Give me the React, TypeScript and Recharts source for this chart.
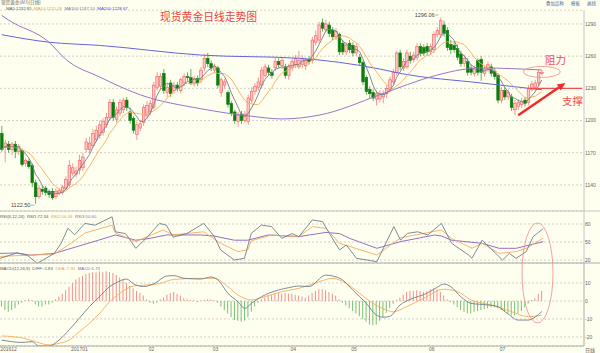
import React from 'react';
import { ComposedChart, Bar, Line, XAxis, YAxis, CartesianGrid, ReferenceLine, ReferenceDot, Cell } from 'recharts';

const openP = [1188,1175,1178,1173,1178,1171,1172,1160,1162,1158,
1142,1129,1136,1137,1134,1134,1129,1132,1133,1137,
1140,1151,1150,1154,1156,1173,1173,1177,1182,1186,
1189,1196,1203,1217,1201,1207,1210,1219,1208,1202,
1187,1193,1198,1205,1208,1212,1231,1232,1244,1226,
1235,1228,1233,1228,1235,1241,1240,1235,1239,1238,
1249,1258,1253,1247,
1249,1226,1233,1226,1216,1208,1199,1206,1200,1199,
1219,1227,1231,1233,1242,1249,1245,1249,1255,1251,
1250,1242,1249,1252,1250,1252,1251,1257,1256,1273,
1275,1291,1285,1289,1284,1278,1280,1272,1264,1272,
1270,1263,1259,1254,1240,1229,1226,1220,1220,1222,
1225,1229,1236,1245,1263,1249,1250,1260,
1257,
1259,1269,1268,1269,1264,1266,1280,1280,1289,1284,
1271,1270,
1267,1262,1253,1255,1249,1244,
1256,1257,1244,
1248,1250,1246,1242,1219,1228,
1222,1222,1210,1213,1215,1219,1217,1229,1231,1235,
1244];
const closeP = [1173,1179,1173,1178,1171,1176,1159,1163,1157,1142,
1129,1137,1134,1133,1131,1128,1134,1135,1138,1145,
1158,1156,1153,1163,1166,1180,1179,1188,1191,1196,
1199,1203,1217,1203,1210,1217,1219,1212,1200,1191,
1196,1197,1212,1214,1216,1233,1241,1241,1228,1231,
1225,1233,1230,1238,1241,1240,1235,1239,1235,1247,
1258,1253,1249,1250,
1233,1238,1236,1215,1207,1200,1205,1200,1206,1221,
1227,1232,1236,1247,1250,1245,1242,1255,1252,1256,
1242,1250,1255,1258,1256,1258,1256,1255,1275,1279,
1289,1286,1290,1281,1278,1283,1264,1264,1270,1266,
1263,1269,1254,1236,1227,1225,1221,1225,1225,1225,
1230,1238,1245,1263,1250,1255,1263,1256,
1261,
1269,1263,1263,1264,1269,1280,1284,1293,1281,1268,
1266,1266,
1259,1253,1258,1245,1245,1248,
1245,1245,1248,
1252,1244,1241,1219,1228,1222,
1226,1212,1216,1217,1218,1216,1230,1234,1235,1245,
1245];
const highP = [1195,1182,1181,1180,1181,1178,1174,1165,1164,1160,
1145,1140,1139,1139,1136,1137,1137,1137,1140,1148,
1163,1160,1157,1168,1170,1184,1185,1192,1195,1200,
1202,1207,1220,1220,1213,1220,1221,1222,1212,1204,
1199,1200,1215,1218,1219,1236,1245,1244,1248,1234,
1238,1236,1236,1240,1244,1245,1248,1242,1242,1250,
1262,1263,1256,1253,
1251,1240,1239,1228,1218,1210,1208,1209,1209,1224,
1231,1235,1240,1250,1253,1252,1248,1259,1258,1259,
1253,1253,1258,1261,1265,1261,1259,1260,1278,1284,
1292,1295,1294,1292,1287,1286,1282,1275,1273,1275,
1273,1272,1262,1256,1242,1232,1229,1228,1228,1228,
1233,1241,1248,1265,1266,1258,1266,1264,
1264,
1272,1272,1271,1272,1272,1283,1287,1296,1293,1287,
1275,1273,
1271,1265,1261,1258,1252,1251,
1258,1260,1251,
1255,1253,1249,1244,1231,1231,
1229,1225,1219,1220,1221,1222,1233,1237,1238,1248,
1247];
const lowP = [1171,1161,1170,1168,1165,1168,1157,1157,1155,1138,
1122.5,1127,1131,1130,1128,1126,1127,1130,1131,1135,
1138,1148,1147,1150,1153,1170,1170,1175,1180,1183,
1186,1193,1200,1200,1198,1204,1207,1209,1197,1188,
1182,1190,1195,1202,1205,1210,1228,1229,1225,1222,
1222,1225,1227,1225,1232,1237,1233,1232,1232,1235,
1246,1250,1246,1244,
1230,1222,1230,1212,1204,1197,1194,1197,1198,1196,
1216,1224,1228,1230,1240,1242,1239,1246,1249,1248,
1239,1238,1246,1249,1248,1249,1247,1252,1253,1270,
1272,1283,1282,1278,1275,1275,1261,1261,1261,1263,
1260,1260,1251,1233,1224,1221,1218,1214,1217,1216,
1221,1226,1233,1242,1247,1246,1248,1253,
1254,
1256,1260,1260,1261,1261,1263,1277,1277,1278,1265,
1262,1263,
1256,1250,1250,1242,1242,1241,
1242,1237,1241,
1245,1241,1238,1216,1216,1219,
1219,1209,1205,1210,1212,1213,1214,1227,1228,1232,
1242];

const ma100Pts: [number, number][] = [[0,1298],[2,1293.7],[14,1273],[19,1257],[29,1240.6],[41,1224],[59,1211],[74,1204],[83,1201.5],[94,1205],[112,1224],[118,1231],[127,1240.6],[142,1249],[160,1247.1]];
const ma200Pts: [number, number][] = [[0,1280],[14,1273],[29,1270],[59,1261],[88,1258],[112,1248],[118,1244],[142,1235],[160,1228.7]];
const rsi1Pts: [number, number][] = [[0,22.8],[5,31.7],[8,28],[11,14.4],[16,31],[18,47.8],[20,72.8],[22,62],[25,81],[28,78],[33,92],[34,67],[37,64],[40,39.5],[43,56],[47,81],[49,78],[51,58],[55,64],[60,81],[63,60],[65,36.7],[69,20],[72,22.8],[74,64.4],[77,78.3],[80,75.6],[83,56],[86,64],[88,58.9],[92,86.7],[95,83.9],[97,64.4],[100,36.7],[102,45],[105,22.8],[108,20],[111,17.2],[116,75.6],[118,53],[120,64.4],[123,67],[126,61.7],[130,81],[133,47.8],[138,28.3],[139,22.8],[142,53],[144,42],[148,20],[150,31],[152,22.8],[155,34],[157,58.9],[160,72.3]];
const rsi2Pts: [number, number][] = [[0,26],[16,30],[21,48],[25,65],[33,78],[34,65],[40,50.6],[48,70],[51,62],[60,67],[65,47.8],[70,34],[73,37],[74,52],[80,61.7],[88,59],[92,75.6],[96,72.8],[100,47.8],[111,28.3],[115,45],[118,57],[130,70],[133,56],[139,39.5],[142,47.8],[147,31],[152,34],[155,39.5],[160,56.5]];
const rsi3Pts: [number, number][] = [[0,31],[5,31.7],[9,28],[16,31],[21,39.5],[29,53],[34,61.7],[40,53],[44,56],[49,61.7],[59,61.7],[63,60],[69,53],[73,53],[79,61.7],[88,58.9],[96,66],[100,64],[103,56],[111,39.5],[118,50.6],[128,61.7],[130,60],[133,53],[142,47.8],[147,39.5],[152,39.5],[160,50.6]];
const diffPts: [number, number][] = [[0,-21.7],[6,-23],[9,-22.6],[11,-25],[14,-25],[17,-21.7],[20,-16],[23,-9.6],[26,-3.1],[29,2.4],[32,8],[34,10.2],[37,12.2],[39,9.6],[42,8],[45,9.5],[49,13.9],[51,14.1],[54,12.6],[59,12.2],[62,13.3],[64,11.8],[67,4.3],[70,-0.4],[72,-4.1],[74,-1.3],[77,2.4],[82,6.1],[85,7.4],[88,8.3],[91,8],[96,14.4],[98,13.9],[101,11.7],[104,6.1],[108,-1.3],[111,-7.8],[113,-9],[115,-8.5],[118,-2.2],[121,0.9],[126,4.3],[129,7.6],[131,9.4],[133,8],[136,2.4],[139,-1.3],[144,-2.2],[147,-3.1],[150,-7.2],[153,-10.6],[156,-10.6],[158,-9],[160,-5.83]];
const deaPts: [number, number][] = [[0,-19.4],[6,-20.5],[10,-22.6],[14,-24.4],[17,-23.5],[20,-21.7],[23,-17],[26,-12.4],[29,-6.9],[32,-0.4],[35,4.3],[39,8.3],[42,8.8],[47,9.8],[51,12],[59,12.6],[63,12.6],[67,8],[70,3.3],[74,0.6],[78,2.4],[83,5.2],[88,7],[94,10.7],[98,12.6],[102,9.8],[106,4.3],[110,-1.3],[114,-5],[116,-6],[120,-3.1],[125,1.5],[131,6.5],[135,5.2],[139,0.6],[145,-2.2],[151,-5.9],[156,-8.7],[160,-7.9]];
const macdHist = [-3,-5,-6,-5,-4,-2,-1,0.5,1,0.5,
-2,-3,-3,-2,-2,-1,1,2.5,4,6,
8,10,12,13,14,15,15.5,16,16,16.5,
16,16.5,16,15.5,14.5,13,12,10,8.5,7,
5.5,4.5,3,1,-1,-1.5,-1,1,2,3.5,
4.5,5,4,3,1.5,1,0.5,0.5,-0.5,0.3,
0.5,1,1,0.5,-1,-3,-5,-7,-9,-10.5,
-11,-11.5,-11,-9,-6,-3,-1,1,2,3,
3.5,4,4.5,4,4.5,4,4,3.5,3,2.5,
2,3,4.5,5.5,6.5,6.5,6,5,4,3,
1,-1,-2.5,-4,-5.5,-7,-8.5,-10,-11.5,-13,
-13.5,-13,-11,-9,-6.5,-4,-1.5,0.5,2,3.5,
5,5.5,5.5,6,5.5,5,5.5,6.5,7,6.5,
5,3,1,-0.5,-2,-3.5,-5,-6,-7,-7,
-6,-5.5,-5,-4.5,-4,-3.5,-3.5,-4,-5,-6,
-7,-8,-8,-7,-5.5,-3.5,-1.5,0.5,1.5,4,
5.73];

const monthTicks = [0, 21, 44, 63, 86, 104, 127, 148];
const monthLabels = ['201612', '201701', '02', '03', '04', '05', '06', '07'];
const priceTicks = [1140, 1170, 1200, 1230, 1260, 1290];
const rsiTicks = [20, 50, 80];
const macdTicks = [-20, -10, 0, 10];

const SLOTS = 173;

function movingAvg(arr: number[], n: number) {
  return arr.map((_, i) => {
    const w = arr.slice(Math.max(0, i - n + 1), i + 1);
    return w.reduce((a, b) => a + b, 0) / w.length;
  });
}
const ma5 = movingAvg(closeP, 5);
const ma10 = movingAvg(closeP, 10);
const lookup = (pts: [number, number][]) => {
  const m = new Map(pts);
  return (i: number) => (m.has(i) ? m.get(i) : null);
};
const g100 = lookup(ma100Pts), g200 = lookup(ma200Pts), gr1 = lookup(rsi1Pts), gr2 = lookup(rsi2Pts), gr3 = lookup(rsi3Pts), gd = lookup(diffPts), ge = lookup(deaPts);

const rows = Array.from({ length: SLOTS }, (_, i) => {
  const has = i < closeP.length;
  return {
    idx: i,
    open: has ? openP[i] : null,
    close: has ? closeP[i] : null,
    high: has ? highP[i] : null,
    low: has ? lowP[i] : null,
    range: has ? [lowP[i], highP[i]] : null,
    ma5: has ? ma5[i] : null,
    ma10: has ? ma10[i] : null,
    ma100: g100(i),
    ma200: g200(i),
    rsi1: gr1(i),
    rsi2: gr2(i),
    rsi3: gr3(i),
    diff: gd(i),
    dea: ge(i),
    hist: has ? macdHist[i] : null,
  };
});

const UP = '#F25A5A';
const DOWN = '#0C7C0C';

const Candle = (props: any) => {
  const { x, width, y, height, payload } = props;
  if (!payload || payload.open == null || !isFinite(y) || !isFinite(height)) return null;
  const { open, close, high, low } = payload;
  const top0 = Math.min(y, y + height);
  const h = Math.abs(height);
  const k = h / (high - low || 1);
  const yOf = (v: number) => top0 + (high - v) * k;
  const cx = x + width / 2;
  const up = close >= open;
  const bt = yOf(Math.max(open, close));
  const bb = yOf(Math.min(open, close));
  const bw = 2.6;
  return (
    <g>
      <line x1={cx} x2={cx} y1={top0} y2={bt} stroke={up ? '#F47C7C' : '#3E9A3E'} strokeWidth={0.8} />
      <line x1={cx} x2={cx} y1={bb} y2={top0 + h} stroke={up ? '#F47C7C' : '#3E9A3E'} strokeWidth={0.8} />
      <rect x={cx - bw / 2} y={bt} width={bw} height={Math.max(0.8, bb - bt)} fill={up ? '#FFC6C6' : DOWN} stroke={up ? UP : DOWN} strokeWidth={0.6} />
    </g>
  );
};

const Arrow = (p: any) => {
  const { x1, y1, x2, y2 } = p;
  if (![x1, y1, x2, y2].every((v) => isFinite(v))) return null;
  const a = Math.atan2(y2 - y1, x2 - x1);
  const L = 8, W = 3.6;
  const bx = x2 - L * Math.cos(a), by = y2 - L * Math.sin(a);
  const px = -Math.sin(a) * W, py = Math.cos(a) * W;
  return (
    <g>
      <line x1={x1} y1={y1} x2={bx} y2={by} stroke="#F02A2A" strokeWidth={2.4} />
      <polygon points={`${x2},${y2} ${bx + px},${by + py} ${bx - px},${by - py}`} fill="#F02A2A" />
    </g>
  );
};

const FONT = '"Liberation Sans", Arial, sans-serif';
const CJK = '"Noto Sans CJK SC", sans-serif';
const axisTick = { fontSize: 5, fill: '#666', fontFamily: FONT };
const margin = { top: 0, right: 0, bottom: 0, left: 0 };

const MonthTick = (p: any) => {
  const i = monthTicks.indexOf(p.payload.value);
  return (
    <text x={p.x - 1.5} y={p.y + 5.2} fontSize={5} fill="#666" fontFamily={FONT} textAnchor="start">
      {i >= 0 ? monthLabels[i] : ''}
    </text>
  );
};

export default function App() {
  return (
    <div style={{ position: 'absolute', left: 0, top: 0, width: 600, height: 353, background: '#FFFFEF', overflow: 'hidden' }}>
      <div style={{ position: 'absolute', left: 0, top: 10 }}>
        <ComposedChart width={600} height={201} data={rows} margin={margin}>
          <CartesianGrid vertical={false} stroke="#CFCFC8" strokeDasharray="2 2" />
          <XAxis dataKey="idx" hide />
          <YAxis orientation="right" width={16} domain={[1115.7, 1303]} allowDataOverflow ticks={priceTicks} interval={0} tickSize={0} tickMargin={1} tick={axisTick} tickLine={false} axisLine={{ stroke: '#C4C4C4' }} />
          <Bar dataKey="range" shape={(p: any) => <Candle {...p} />} isAnimationActive={false} />
          <Line dataKey="ma200" type="monotone" stroke="#6464E4" strokeWidth={1} dot={false} connectNulls isAnimationActive={false} />
          <Line dataKey="ma100" type="monotone" stroke="#9A74C6" strokeWidth={1} dot={false} connectNulls isAnimationActive={false} />
          <Line dataKey="ma10" type="linear" stroke="#F6AA60" strokeWidth={0.9} dot={false} isAnimationActive={false} />
          <Line dataKey="ma5" type="linear" stroke="#6E7E8E" strokeWidth={0.9} dot={false} isAnimationActive={false} />
          <ReferenceLine segment={[{ x: 156, y: 1230 }, { x: 172, y: 1230 }]} stroke="#F25050" strokeWidth={1.2} ifOverflow="visible" />
          <ReferenceLine segment={[{ x: 153, y: 1205 }, { x: 167, y: 1235 }]} shape={Arrow} ifOverflow="visible" />
          <ReferenceDot x={160} y={1245.3} ifOverflow="visible" shape={(p: any) => <ellipse cx={p.cx} cy={p.cy} rx={18.5} ry={5.5} fill="none" stroke="#F08A8A" strokeWidth={0.8} />} />
          <ReferenceDot x={130} y={1296} ifOverflow="visible" shape={(p: any) => (
            <g>
              <text x={p.cx - 6} y={p.cy - 1} fontSize={5.5} fill="#444" fontFamily={FONT} textAnchor="end">1296.06</text>
              <line x1={p.cx - 5.5} x2={p.cx - 2} y1={p.cy - 2.5} y2={p.cy - 2.5} stroke="#666" strokeWidth={0.5} />
            </g>
          )} />
          <ReferenceDot x={10} y={1122.5} ifOverflow="visible" shape={(p: any) => (
            <g>
              <text x={p.cx - 5} y={p.cy + 3} fontSize={5.5} fill="#444" fontFamily={FONT} textAnchor="end">1122.50</text>
              <line x1={p.cx - 4.5} x2={p.cx - 1} y1={p.cy + 1.5} y2={p.cy + 1.5} stroke="#666" strokeWidth={0.5} />
            </g>
          )} />
        </ComposedChart>
      </div>
      <div style={{ position: 'absolute', left: 0, top: 211 }}>
        <ComposedChart width={600} height={52} data={rows} margin={margin}>
          <CartesianGrid vertical={false} stroke="#CFCFC8" strokeDasharray="2 2" />
          <XAxis dataKey="idx" hide />
          <YAxis orientation="right" width={16} domain={[15, 101.67]} allowDataOverflow ticks={rsiTicks} interval={0} tickSize={0} tickMargin={1} tick={axisTick} tickLine={false} axisLine={{ stroke: '#C4C4C4' }} />
          <Line dataKey="rsi3" type="linear" stroke="#8A5EC2" strokeWidth={0.9} dot={false} connectNulls isAnimationActive={false} />
          <Line dataKey="rsi2" type="linear" stroke="#F6AA60" strokeWidth={0.9} dot={false} connectNulls isAnimationActive={false} />
          <Line dataKey="rsi1" type="linear" stroke="#6E7E8E" strokeWidth={0.9} dot={false} connectNulls isAnimationActive={false} />
        </ComposedChart>
      </div>
      <div style={{ position: 'absolute', left: 0, top: 263 }}>
        <ComposedChart width={600} height={90} data={rows} margin={margin}>
          <CartesianGrid vertical={false} stroke="#CFCFC8" strokeDasharray="2 2" />
          <XAxis dataKey="idx" ticks={monthTicks} interval={0} height={7} tickSize={0} tickMargin={0} tick={(p: any) => <MonthTick {...p} />} tickLine={false} axisLine={{ stroke: '#ABABAB' }} />
          <YAxis orientation="right" width={16} domain={[-25, 21.1]} allowDataOverflow ticks={macdTicks} interval={0} tickSize={0} tickMargin={1} tick={axisTick} tickLine={false} axisLine={{ stroke: '#ABABAB' }} />
          <Bar dataKey="hist" barSize={1} isAnimationActive={false}>
            {rows.map((r, i) => (
              <Cell key={i} fill={(r.hist ?? 0) >= 0 ? '#F39090' : '#78C078'} />
            ))}
          </Bar>
          <Line dataKey="dea" type="monotone" stroke="#F6AA60" strokeWidth={0.9} dot={false} connectNulls isAnimationActive={false} />
          <Line dataKey="diff" type="monotone" stroke="#6E7E8E" strokeWidth={0.9} dot={false} connectNulls isAnimationActive={false} />
        </ComposedChart>
      </div>
      <svg width={600} height={353} style={{ position: 'absolute', left: 0, top: 0, pointerEvents: 'none' }}>
        <line x1={0} x2={600} y1={211} y2={211} stroke="#C4C4C4" strokeWidth={1} />
        <line x1={0} x2={600} y1={263} y2={263} stroke="#ABABAB" strokeWidth={1} />
        <line x1={0} x2={584} y1={10} y2={10} stroke="#D8D8D0" strokeDasharray="2 2" strokeWidth={0.8} />
        <text x={1} y={3.8} fontSize={4.6} fill="#666" fontFamily={CJK}>现货黄金(AU)(日线)</text>
        <text x={6} y={9.6} fontSize={4.3} fontFamily={FONT}>
          <tspan fill="#4C5C78">MA5:1232.85</tspan>
          <tspan dx={2.5} fill="#F0A040">MA10:1225.28</tspan>
          <tspan dx={2.5} fill="#9060C0">MA100:1247.10</tspan>
          <tspan dx={2.5} fill="#4848E0">MA200:1228.67</tspan>
        </text>
        <text x={546} y={4.5} fontSize={4.4} fill="#3A6EA5" fontFamily={CJK}>叠加品种</text>
        <text x={571} y={4.5} fontSize={4.4} fill="#3A6EA5" fontFamily={CJK}>模板</text>
        <text x={587} y={4.5} fontSize={4.4} fill="#3A6EA5" fontFamily={CJK}>画线</text>
        <text x={160} y={21} fontSize={10.8} fill="#F04040" fontFamily={CJK}>现货黄金日线走势图</text>
        <text x={545} y={64} fontSize={10.5} fill="#F05050" fontFamily={CJK}>阻力</text>
        <text x={562} y={105} fontSize={10.5} fill="#F05050" fontFamily={CJK}>支撑</text>
        <text x={0} y={217.5} fontSize={4.3} fontFamily={FONT}>
          <tspan fill="#555">RSI(6,12,24)</tspan>
          <tspan dx={2.5} fill="#4C5C78">RSI1:72.34</tspan>
          <tspan dx={2.5} fill="#F0A040">RSI2:56.48</tspan>
          <tspan dx={2.5} fill="#9060C0">RSI3:50.60</tspan>
        </text>
        <text x={0} y={269.5} fontSize={4.3} fontFamily={FONT}>
          <tspan fill="#555">MACD(12,26,9)</tspan>
          <tspan dx={2.5} fill="#4C5C78">DIFF:-5.83</tspan>
          <tspan dx={2.5} fill="#F0A040">DEA:-7.90</tspan>
          <tspan dx={2.5} fill="#9060C0">MACD:5.73</tspan>
        </text>
        <ellipse cx={537.5} cy={273} rx={15.5} ry={50} fill="none" stroke="#F08A8A" strokeWidth={0.8} />
        <text x={585} y={352} fontSize={5} fill="#666" fontFamily={CJK}>日线</text>
      </svg>
    </div>
  );
}
